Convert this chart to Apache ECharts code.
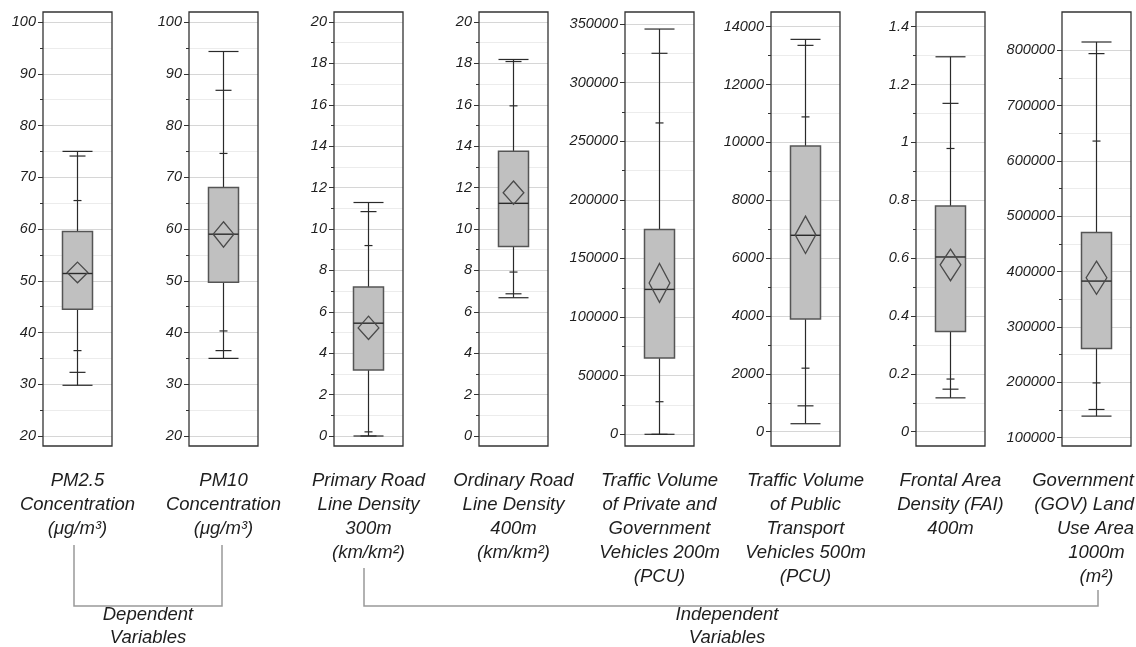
<!DOCTYPE html>
<html>
<head>
<meta charset="utf-8">
<title>Box plots</title>
<script src="https://cdn.jsdelivr.net/npm/echarts@6.0.0/dist/echarts.min.js"></script>
<style>
  html, body { margin: 0; padding: 0; background: #fff; }
  #chart { width: 1136px; height: 647px; }
</style>
</head>
<body>
<div id="chart"></div>
<script>
// variable names (one panel each)
const names = [
  'PM2.5\nConcentration\n(μg/m³)',
  'PM10\nConcentration\n(μg/m³)',
  'Primary Road\nLine Density\n300m\n(km/km²)',
  'Ordinary Road\nLine Density\n400m\n(km/km²)',
  'Traffic Volume\nof Private and\nGovernment\nVehicles 200m\n(PCU)',
  'Traffic Volume\nof Public\nTransport\nVehicles 500m\n(PCU)',
  'Frontal Area\nDensity (FAI)\n400m',
  'Government\n(GOV) Land\nUse Area\n1000m\n(m²)'
];

// box plot statistics
const minVals    = [29.8, 35.0, 0,    6.68,  0,      276,   0.117, 139000];
const p1Vals     = [32.3, 36.5, 0,    6.87,  0,      894,   0.147, 151000];
const p5Vals     = [36.5, 40.3, 0.2,  7.92,  27800,  2196,  0.182, 199000];
const q1Vals     = [44.5, 49.7, 3.19, 9.16,  65000,  3896,  0.346, 261000];
const medianVals = [51.4, 59.0, 5.45, 11.24, 123600, 6790,  0.604, 383000];
const q3Vals     = [59.5, 68.0, 7.2,  13.76, 174700, 9873,  0.780, 471000];
const p95Vals    = [65.5, 74.6, 9.2,  15.95, 265600, 10882, 0.979, 636000];
const p99Vals    = [74.1, 86.8, 10.84,18.09, 325000, 13355, 1.135, 794000];
const maxVals    = [75.0, 94.3, 11.28,18.19, 345700, 13562, 1.296, 815000];
const meanVals   = [51.6, 59.0, 5.22, 11.75, 129100, 6805,  0.577, 389000];
const meanLo     = [49.6, 56.5, 4.66, 11.19, 112500, 6162,  0.522, 359000];
const meanHi     = [53.6, 61.4, 5.79, 12.32, 145700, 7452,  0.631, 419000];

// y axis ticks
const axisMin  = [20, 20, 0, 0, 0, 0, 0, 100000];
const axisMax  = [100, 100, 20, 20, 350000, 14000, 1.4, 800000];
const axisStep = [10, 10, 2, 2, 50000, 2000, 0.2, 100000];

// layout (pixels)
const W = 1136, H = 647;
const frameLeft = [43, 189, 334, 479, 625, 771, 916, 1062];
const frameW = 69, frameTop = 12, frameBottom = 446;
const axisTopPx = [22, 22, 22, 22, 24, 26.7, 26.7, 50.3];
const axisBotPx = [436, 436, 436, 436, 434.3, 431.7, 431.7, 437.7];

const textColor = '#1e1e1e';
const labelFont = 'italic 18.5px "Liberation Sans", Arial, sans-serif';

// width of a line of text, to keep long lines inside the picture
const measureCtx = document.createElement('canvas').getContext('2d');
measureCtx.font = labelFont;

function renderBox(params, api) {
  const cx = api.coord([0, api.value(1)])[0];
  const y = k => api.coord([0, api.value(k)])[1];
  const band = api.size([1, 0])[0];
  const half = band * 0.435 / 2;
  const line = (x1, y1, x2, y2, lw) => ({
    type: 'line',
    shape: { x1, y1, x2, y2 },
    style: { stroke: '#2a2a2a', lineWidth: lw || 1.2 }
  });
  const cap = (k, w) => line(cx - w, y(k), cx + w, y(k));
  const yQ1 = y(4), yQ3 = y(6), yMean = y(10), yLo = y(11), yHi = y(12);
  const dw = band * 0.15;
  return {
    type: 'group',
    children: [
      line(cx, y(1), cx, yQ1),
      line(cx, yQ3, cx, y(9)),
      {
        type: 'rect',
        shape: { x: cx - half, y: yQ3, width: half * 2, height: yQ1 - yQ3 },
        style: { fill: '#c0c0c0', stroke: '#555', lineWidth: 1.5 }
      },
      cap(1, half), cap(9, half),
      cap(2, 8), cap(8, 8),
      cap(3, 4), cap(7, 4),
      line(cx - half, y(5), cx + half, y(5), 1.4),
      {
        type: 'polygon',
        shape: { points: [[cx, yHi], [cx + dw, yMean], [cx, yLo], [cx - dw, yMean]] },
        style: { fill: 'none', stroke: '#4a4a4a', lineWidth: 1.3 }
      }
    ]
  };
}

const grids = [], xAxes = [], yAxes = [], series = [], graphics = [];
for (let i = 0; i < names.length; i++) {
  grids.push({
    left: frameLeft[i], width: frameW,
    top: axisTopPx[i], bottom: H - axisBotPx[i]
  });
  xAxes.push({ type: 'category', gridIndex: i, data: [names[i]], show: false });
  yAxes.push({
    type: 'value', gridIndex: i,
    min: axisMin[i], max: axisMax[i], interval: axisStep[i],
    axisLine: { show: false },
    axisTick: { show: true, length: 5, lineStyle: { color: '#333' } },
    minorTick: { show: true, splitNumber: 2, length: 3, lineStyle: { color: '#333' } },
    splitLine: { show: true, lineStyle: { color: '#d6d6d6', width: 1 } },
    minorSplitLine: { show: true, lineStyle: { color: '#ececec', width: 1 } },
    axisLabel: {
      margin: 7, color: textColor, fontSize: 14.5, fontStyle: 'italic',
      fontFamily: '"Liberation Sans", Arial, sans-serif',
      formatter: v => String(Math.round(v * 1e6) / 1e6)
    }
  });
  series.push({
    type: 'custom', xAxisIndex: i, yAxisIndex: i,
    renderItem: renderBox,
    encode: { x: 0, y: [1, 2, 3, 4, 5, 6, 7, 8, 9] },
    data: [[0, minVals[i], p1Vals[i], p5Vals[i], q1Vals[i], medianVals[i],
      q3Vals[i], p95Vals[i], p99Vals[i], maxVals[i], meanVals[i], meanLo[i], meanHi[i]]]
  });
  // panel frame
  graphics.push({
    type: 'rect', z: 100,
    shape: { x: frameLeft[i], y: frameTop, width: frameW, height: frameBottom - frameTop },
    style: { fill: 'none', stroke: '#333', lineWidth: 1.3 }
  });
  // name under the panel, one line at a time
  names[i].split('\n').forEach((txt, k) => {
    const w = measureCtx.measureText(txt).width;
    const cx = Math.min(frameLeft[i] + frameW / 2, W - 2 - w / 2);
    graphics.push({
      type: 'text', z: 100,
      style: {
        text: txt, x: cx, y: 481 + k * 24,
        textAlign: 'center', textVerticalAlign: 'middle',
        font: labelFont, fill: textColor
      }
    });
  });
}

// brackets grouping the variables
const bracketStyle = { fill: 'none', stroke: '#999', lineWidth: 1.5 };
graphics.push({
  type: 'polyline', z: 100,
  shape: { points: [[74, 545], [74, 606], [222, 606], [222, 545]] },
  style: bracketStyle
});
graphics.push({
  type: 'polyline', z: 100,
  shape: { points: [[364, 568], [364, 606], [1098, 606], [1098, 590]] },
  style: bracketStyle
});
graphics.push({
  type: 'text', z: 100,
  style: { text: 'Dependent\nVariables', x: 148, y: 603, textAlign: 'center',
    textVerticalAlign: 'top', font: labelFont, fill: textColor, lineHeight: 23 }
});
graphics.push({
  type: 'text', z: 100,
  style: { text: 'Independent\nVariables', x: 727, y: 603, textAlign: 'center',
    textVerticalAlign: 'top', font: labelFont, fill: textColor, lineHeight: 23 }
});

const myChart = echarts.init(document.getElementById('chart'), null, { renderer: 'canvas' });
myChart.setOption({
  backgroundColor: '#fff',
  animation: false,
  grid: grids,
  xAxis: xAxes,
  yAxis: yAxes,
  series: series,
  graphic: graphics
});
</script>
</body>
</html>
